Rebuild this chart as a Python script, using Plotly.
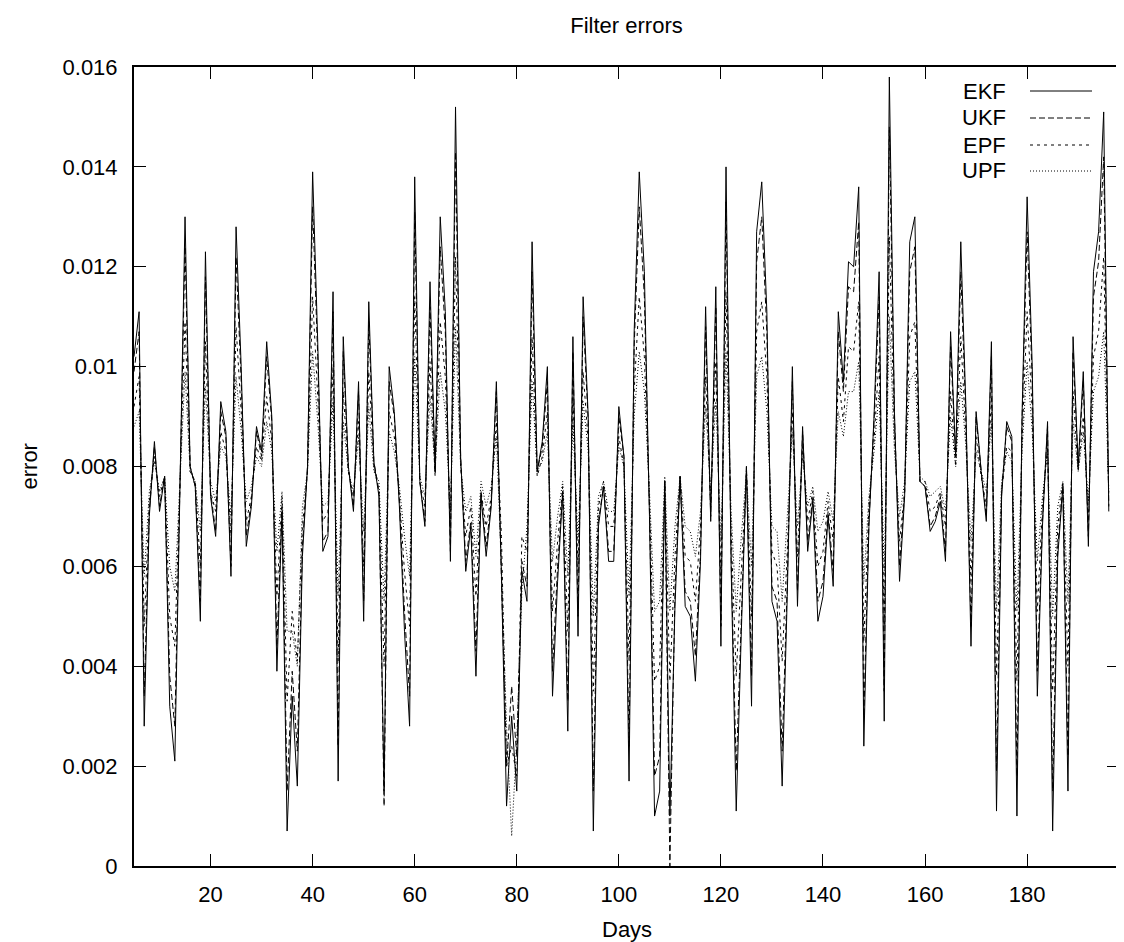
import plotly.graph_objects as go

days = list(range(5, 197))

ekf = [0.0102, 0.0111, 0.0028, 0.0070, 0.0085, 0.0071, 0.0078, 0.0032, 0.0021, 0.0076,
       0.0130, 0.0080, 0.0076, 0.0049, 0.0123, 0.0074, 0.0066, 0.0093, 0.0087, 0.0058,
       0.0128, 0.0100, 0.0064, 0.0072, 0.0088, 0.0083, 0.0105, 0.0090, 0.0039, 0.0071,
       0.0007, 0.0034, 0.0016, 0.0062, 0.0080, 0.0139, 0.0105, 0.0063, 0.0066, 0.0115,
       0.0017, 0.0106, 0.0080, 0.0071, 0.0097, 0.0049, 0.0113, 0.0081, 0.0074, 0.0015,
       0.0100, 0.0091, 0.0072, 0.0047, 0.0028, 0.0138, 0.0077, 0.0068, 0.0117, 0.0079,
       0.0130, 0.0111, 0.0061, 0.0152, 0.0082, 0.0059, 0.0068, 0.0038, 0.0074, 0.0062,
       0.0072, 0.0097, 0.0058, 0.0012, 0.0030, 0.0015, 0.0059, 0.0053, 0.0125, 0.0079,
       0.0085, 0.0100, 0.0034, 0.0057, 0.0075, 0.0027, 0.0106, 0.0046, 0.0114, 0.0090,
       0.0007, 0.0068, 0.0076, 0.0061, 0.0061, 0.0092, 0.0082, 0.0017, 0.0107, 0.0139,
       0.0119, 0.0070, 0.0010, 0.0015, 0.0077, 0.0010, 0.0052, 0.0078, 0.0052, 0.0050,
       0.0037, 0.0061, 0.0112, 0.0069, 0.0116, 0.0044, 0.0140, 0.0060, 0.0011, 0.0047,
       0.0080, 0.0032, 0.0127, 0.0137, 0.0111, 0.0053, 0.0049, 0.0016, 0.0054, 0.0100,
       0.0052, 0.0088, 0.0063, 0.0073, 0.0049, 0.0054, 0.0070, 0.0056, 0.0111, 0.0097,
       0.0121, 0.0120, 0.0136, 0.0024, 0.0068, 0.0090, 0.0119, 0.0029, 0.0158, 0.0091,
       0.0057, 0.0074, 0.0125, 0.0130, 0.0077, 0.0076, 0.0067, 0.0069, 0.0073, 0.0061,
       0.0107, 0.0082, 0.0125, 0.0092, 0.0044, 0.0091, 0.0079, 0.0069, 0.0105, 0.0011,
       0.0074, 0.0089, 0.0086, 0.0010, 0.0090, 0.0134, 0.0100, 0.0034, 0.0068, 0.0089,
       0.0007, 0.0062, 0.0076, 0.0015, 0.0106, 0.0080, 0.0099, 0.0064, 0.0119, 0.0127,
       0.0151, 0.0071]

ukf = [0.0099, 0.0107, 0.0034, 0.0071, 0.0084, 0.0072, 0.0078, 0.0038, 0.0028, 0.0076,
       0.0124, 0.0080, 0.0076, 0.0053, 0.0118, 0.0075, 0.0067, 0.0091, 0.0086, 0.0060,
       0.0122, 0.0097, 0.0066, 0.0073, 0.0087, 0.0082, 0.0102, 0.0089, 0.0044, 0.0072,
       0.0015, 0.0039, 0.0023, 0.0064, 0.0080, 0.0132, 0.0102, 0.0065, 0.0067, 0.0111,
       0.0024, 0.0103, 0.0080, 0.0072, 0.0095, 0.0053, 0.0109, 0.0081, 0.0075, 0.0012,
       0.0097, 0.0090, 0.0073, 0.0051, 0.0034, 0.0131, 0.0077, 0.0069, 0.0112, 0.0079,
       0.0124, 0.0107, 0.0063, 0.0143, 0.0082, 0.0061, 0.0069, 0.0043, 0.0075, 0.0064,
       0.0073, 0.0095, 0.0060, 0.0020, 0.0036, 0.0022, 0.0061, 0.0056, 0.0119, 0.0079,
       0.0084, 0.0097, 0.0039, 0.0060, 0.0075, 0.0033, 0.0103, 0.0050, 0.0110, 0.0089,
       0.0015, 0.0069, 0.0076, 0.0063, 0.0063, 0.0090, 0.0082, 0.0024, 0.0104, 0.0132,
       0.0114, 0.0071, 0.0018, 0.0022, 0.0077, 0.0000, 0.0055, 0.0078, 0.0055, 0.0053,
       0.0042, 0.0063, 0.0108, 0.0070, 0.0112, 0.0048, 0.0133, 0.0062, 0.0019, 0.0051,
       0.0080, 0.0038, 0.0121, 0.0130, 0.0107, 0.0056, 0.0053, 0.0023, 0.0057, 0.0097,
       0.0055, 0.0087, 0.0065, 0.0074, 0.0053, 0.0057, 0.0071, 0.0059, 0.0107, 0.0095,
       0.0116, 0.0115, 0.0129, 0.0030, 0.0069, 0.0089, 0.0114, 0.0035, 0.0148, 0.0090,
       0.0060, 0.0075, 0.0119, 0.0124, 0.0077, 0.0076, 0.0068, 0.0070, 0.0074, 0.0063,
       0.0104, 0.0082, 0.0119, 0.0090, 0.0048, 0.0090, 0.0079, 0.0070, 0.0102, 0.0019,
       0.0075, 0.0088, 0.0085, 0.0018, 0.0089, 0.0127, 0.0097, 0.0039, 0.0069, 0.0088,
       0.0015, 0.0064, 0.0076, 0.0022, 0.0103, 0.0080, 0.0097, 0.0066, 0.0114, 0.0121,
       0.0142, 0.0072]

epf = [0.0092, 0.0098, 0.0048, 0.0073, 0.0082, 0.0074, 0.0078, 0.0050, 0.0044, 0.0077,
       0.0109, 0.0079, 0.0077, 0.0060, 0.0105, 0.0075, 0.0071, 0.0087, 0.0083, 0.0066,
       0.0108, 0.0091, 0.0069, 0.0074, 0.0084, 0.0081, 0.0094, 0.0085, 0.0054, 0.0074,
       0.0033, 0.0051, 0.0041, 0.0068, 0.0079, 0.0114, 0.0094, 0.0069, 0.0071, 0.0100,
       0.0041, 0.0095, 0.0079, 0.0074, 0.0089, 0.0060, 0.0099, 0.0080, 0.0075, 0.0040,
       0.0091, 0.0086, 0.0074, 0.0059, 0.0048, 0.0114, 0.0077, 0.0072, 0.0101, 0.0078,
       0.0109, 0.0098, 0.0068, 0.0122, 0.0080, 0.0066, 0.0072, 0.0054, 0.0075, 0.0068,
       0.0074, 0.0089, 0.0066, 0.0020, 0.0024, 0.0018, 0.0066, 0.0063, 0.0106, 0.0078,
       0.0082, 0.0091, 0.0051, 0.0065, 0.0076, 0.0047, 0.0095, 0.0059, 0.0099, 0.0085,
       0.0035, 0.0072, 0.0077, 0.0068, 0.0068, 0.0086, 0.0080, 0.0041, 0.0095, 0.0114,
       0.0102, 0.0073, 0.0037, 0.0040, 0.0077, 0.0037, 0.0062, 0.0078, 0.0062, 0.0061,
       0.0053, 0.0068, 0.0098, 0.0072, 0.0101, 0.0057, 0.0115, 0.0067, 0.0038, 0.0059,
       0.0079, 0.0050, 0.0107, 0.0113, 0.0098, 0.0063, 0.0060, 0.0041, 0.0063, 0.0091,
       0.0062, 0.0084, 0.0069, 0.0075, 0.0060, 0.0063, 0.0073, 0.0065, 0.0098, 0.0089,
       0.0104, 0.0103, 0.0113, 0.0045, 0.0072, 0.0085, 0.0102, 0.0048, 0.0126, 0.0086,
       0.0065, 0.0075, 0.0106, 0.0109, 0.0077, 0.0077, 0.0071, 0.0072, 0.0075, 0.0068,
       0.0095, 0.0080, 0.0106, 0.0086, 0.0057, 0.0086, 0.0078, 0.0072, 0.0094, 0.0038,
       0.0075, 0.0084, 0.0083, 0.0037, 0.0085, 0.0111, 0.0091, 0.0051, 0.0072, 0.0084,
       0.0035, 0.0068, 0.0077, 0.0040, 0.0095, 0.0079, 0.0090, 0.0069, 0.0102, 0.0107,
       0.0122, 0.0074]

upf = [0.0088, 0.0091, 0.0058, 0.0075, 0.0081, 0.0075, 0.0078, 0.0060, 0.0055, 0.0077,
       0.0099, 0.0079, 0.0077, 0.0067, 0.0096, 0.0077, 0.0073, 0.0084, 0.0082, 0.0070,
       0.0098, 0.0087, 0.0073, 0.0076, 0.0082, 0.0080, 0.0089, 0.0083, 0.0063, 0.0075,
       0.0047, 0.0047, 0.0040, 0.0072, 0.0079, 0.0103, 0.0089, 0.0072, 0.0073, 0.0093,
       0.0054, 0.0089, 0.0079, 0.0075, 0.0086, 0.0067, 0.0092, 0.0079, 0.0077, 0.0053,
       0.0087, 0.0083, 0.0076, 0.0066, 0.0058, 0.0102, 0.0078, 0.0074, 0.0094, 0.0079,
       0.0099, 0.0091, 0.0071, 0.0108, 0.0080, 0.0071, 0.0074, 0.0062, 0.0077, 0.0072,
       0.0076, 0.0086, 0.0060, 0.0028, 0.0006, 0.0025, 0.0055, 0.0068, 0.0097, 0.0079,
       0.0081, 0.0087, 0.0061, 0.0070, 0.0077, 0.0058, 0.0089, 0.0065, 0.0093, 0.0083,
       0.0050, 0.0074, 0.0077, 0.0071, 0.0071, 0.0084, 0.0080, 0.0054, 0.0090, 0.0103,
       0.0095, 0.0075, 0.0051, 0.0053, 0.0078, 0.0051, 0.0068, 0.0078, 0.0068, 0.0067,
       0.0062, 0.0071, 0.0092, 0.0075, 0.0093, 0.0065, 0.0103, 0.0071, 0.0051, 0.0066,
       0.0079, 0.0060, 0.0098, 0.0102, 0.0091, 0.0068, 0.0067, 0.0053, 0.0069, 0.0087,
       0.0068, 0.0082, 0.0072, 0.0076, 0.0067, 0.0069, 0.0075, 0.0069, 0.0091, 0.0086,
       0.0095, 0.0095, 0.0101, 0.0057, 0.0074, 0.0083, 0.0095, 0.0059, 0.0110, 0.0083,
       0.0070, 0.0077, 0.0097, 0.0099, 0.0078, 0.0077, 0.0074, 0.0075, 0.0076, 0.0071,
       0.0090, 0.0080, 0.0097, 0.0084, 0.0065, 0.0083, 0.0079, 0.0075, 0.0089, 0.0051,
       0.0077, 0.0083, 0.0081, 0.0051, 0.0083, 0.0101, 0.0087, 0.0061, 0.0074, 0.0083,
       0.0050, 0.0072, 0.0077, 0.0053, 0.0089, 0.0079, 0.0087, 0.0073, 0.0095, 0.0098,
       0.0107, 0.0075]

series_names = ["EKF", "UKF", "EPF", "UPF"]
series_vals = [ekf, ukf, epf, upf]
series_dash = ["solid", "6px,3px", "3px,4px", "1px,2px"]

x_ticks = [20, 40, 60, 80, 100, 120, 140, 160, 180]
y_ticks = [0, 0.002, 0.004, 0.006, 0.008, 0.01, 0.012, 0.014, 0.016]
y_ticktext = ["0", "0.002", "0.004", "0.006", "0.008", "0.01", "0.012", "0.014", "0.016"]

FONT = "Liberation Sans, Arial, Helvetica, sans-serif"
FS = 22

W, H = 1124, 942
L, T, R, B = 126, 59, 1111, 858   # plot-area edges in pixels

fig = go.Figure()
for name, vals, dash in zip(series_names, series_vals, series_dash):
    fig.add_trace(go.Scatter(x=days, y=vals, mode="lines", name=name,
                             line=dict(color="black", width=1, dash=dash),
                             showlegend=False))

# gnuplot-style key: label right-aligned, sample line to its right
key_px = [83, 110, 137, 163]
for name, dash, py in zip(series_names, series_dash, key_px):
    ky = (B - py) / (B - T)
    fig.add_annotation(x=(1000 - L) / (R - L), y=ky, xref="paper", yref="paper", text=name,
                       showarrow=False, xanchor="right", yanchor="middle",
                       font=dict(family=FONT, size=FS, color="black"))
    fig.add_shape(type="line", xref="paper", yref="paper",
                  x0=(1022 - L) / (R - L), x1=(1084 - L) / (R - L),
                  y0=ky, y1=ky, line=dict(color="black", width=1, dash=dash))

axis_common = dict(showline=True, linecolor="black", linewidth=2, mirror="ticks",
                   ticks="inside", ticklen=12, tickwidth=1, tickcolor="black",
                   showgrid=False, zeroline=False,
                   tickfont=dict(family=FONT, size=FS, color="black"))

fig.update_layout(
    width=W, height=H,
    margin=dict(l=L, r=W - R, t=T, b=H - B),
    paper_bgcolor="white", plot_bgcolor="white",
    title=dict(text="Filter errors", x=(L + R) / 2 / W, y=1 - 17 / H,
               xanchor="center", yanchor="middle",
               font=dict(family=FONT, size=FS, color="black")),
    xaxis=dict(range=[5, 198], tickvals=x_ticks, ticklabelstandoff=8, **axis_common),
    yaxis=dict(range=[0, 0.016], tickvals=y_ticks, ticktext=y_ticktext,
               ticklabelstandoff=10, **axis_common),
)
fig.add_annotation(x=0.5, y=(B - 921) / (B - T), xref="paper", yref="paper",
                   text="Days", showarrow=False, xanchor="center", yanchor="middle",
                   font=dict(family=FONT, size=FS, color="black"))
fig.add_annotation(x=(21 - L) / (R - L), y=0.5, xref="paper", yref="paper",
                   text="error", showarrow=False, textangle=-90, xanchor="center", yanchor="middle",
                   font=dict(family=FONT, size=FS, color="black"))

fig.write_html("out.html")
